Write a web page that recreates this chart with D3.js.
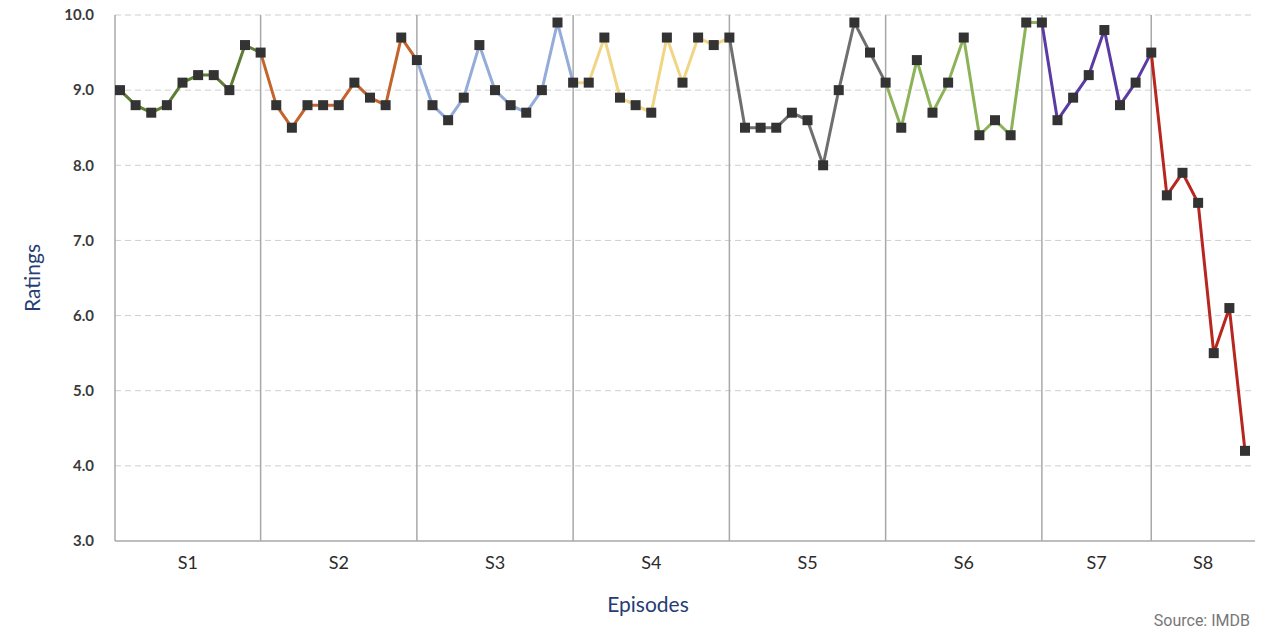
<!DOCTYPE html>
<html lang="en">
<head>
    <meta charset="utf-8">
    <title>Ratings by episode</title>
    <script type="text/javascript" src="https://d3js.org/d3.v7.min.js"></script>
    <style>
        body{
            margin: 0;
            background: white;
        }
        text{
            font-family: Lato, "Open Sans", sans-serif;
        }
        .grid line{
            stroke: #cfcfcf;
            stroke-dasharray: 6 4;
        }
        .y.axis text{
            font-size: 15px;
            font-weight: bold;
            fill: #3a3a3a;
        }
        .season-label{
            font-size: 18px;
            fill: #2b2b2b;
        }
        .axis-title{
            font-size: 21px;
            fill: #263d74;
        }
        .source{
            font-family: "Liberation Sans Narrow", "Roboto", sans-serif;
            font-size: 16px;
            fill: #777;
        }
    </style>
</head>
<body>
    <div id="chart"></div>
    <script type="text/javascript">
        // ratings per season
        const seasons = ["S1", "S2", "S3", "S4", "S5", "S6", "S7", "S8"];
        const s1 = [9.0, 8.8, 8.7, 8.8, 9.1, 9.2, 9.2, 9.0, 9.6, 9.5];
        const s2 = [8.8, 8.5, 8.8, 8.8, 8.8, 9.1, 8.9, 8.8, 9.7, 9.4];
        const s3 = [8.8, 8.6, 8.9, 9.6, 9.0, 8.8, 8.7, 9.0, 9.9, 9.1];
        const s4 = [9.1, 9.7, 8.9, 8.8, 8.7, 9.7, 9.1, 9.7, 9.6, 9.7];
        const s5 = [8.5, 8.5, 8.5, 8.7, 8.6, 8.0, 9.0, 9.9, 9.5, 9.1];
        const s6 = [8.5, 9.4, 8.7, 9.1, 9.7, 8.4, 8.6, 8.4, 9.9, 9.9];
        const s7 = [8.6, 8.9, 9.2, 9.8, 8.8, 9.1, 9.5];
        const s8 = [7.6, 7.9, 7.5, 5.5, 6.1, 4.2];
        const yTicks = [3, 4, 5, 6, 7, 8, 9, 10];

        const seasonColors = ["#5e7d35", "#c4642d", "#93acd9", "#f1d585", "#6f6f6f", "#8db359", "#5b3ba3", "#b8261f"];

        const width = 1270;
        const height = 632;
        const plot = {left: 115, right: 1255, top: 15, bottom: 541};

        // flatten into one list of episodes with a running index
        const ratings = [s1, s2, s3, s4, s5, s6, s7, s8];
        const episodes = [];
        ratings.forEach((list, si) => {
            list.forEach(v => episodes.push({season: si, index: episodes.length + 1, value: v}));
        });
        const total = episodes.length;

        // season boundaries in episode index (last episode of each season)
        const ends = [];
        let count = 0;
        ratings.forEach(list => { count += list.length; ends.push(count); });

        const x = d3.scaleLinear()
            .domain([0.68, total + 0.64])
            .range([plot.left, plot.right]);

        const y = d3.scaleLinear()
            .domain([3, 10])
            .range([plot.bottom, plot.top]);

        const svg = d3.select("#chart")
            .append("svg")
            .attr("width", width)
            .attr("height", height);

        // dashed horizontal grid
        svg.append("g")
            .attr("class", "grid")
            .selectAll("line")
            .data(yTicks.filter(t => t > 3))
            .enter()
            .append("line")
                .attr("x1", plot.left)
                .attr("x2", plot.right)
                .attr("y1", d => y(d))
                .attr("y2", d => y(d));

        // y axis labels
        const yAxis = d3.axisLeft(y)
            .tickValues(yTicks)
            .tickFormat(d3.format(".1f"))
            .tickSize(0)
            .tickPadding(21);

        svg.append("g")
            .attr("class", "y axis")
            .attr("transform", `translate(${plot.left}, 0)`)
            .call(yAxis)
            .call(g => g.select(".domain").remove());

        // season dividers
        const xEdges = [x.domain()[0]].concat(ends.slice(0, -1), [x.domain()[1]]);
        svg.append("g")
            .attr("class", "dividers")
            .selectAll("line")
            .data(ends.slice(0, -1))
            .enter()
            .append("line")
                .attr("x1", d => x(d))
                .attr("x2", d => x(d))
                .attr("y1", plot.top)
                .attr("y2", plot.bottom)
                .attr("stroke", "#a8a8a8")
                .attr("stroke-width", 1.5);

        // axis frame lines
        svg.append("line")
            .attr("x1", plot.left).attr("x2", plot.left)
            .attr("y1", plot.top).attr("y2", plot.bottom)
            .attr("stroke", "#a8a8a8").attr("stroke-width", 1.5);
        svg.append("line")
            .attr("x1", plot.left).attr("x2", plot.right)
            .attr("y1", plot.bottom).attr("y2", plot.bottom)
            .attr("stroke", "#a8a8a8").attr("stroke-width", 1.5);

        // season labels centred between dividers
        svg.append("g")
            .selectAll("text")
            .data(seasons)
            .enter()
            .append("text")
                .attr("class", "season-label")
                .attr("x", (d, i) => (x(xEdges[i]) + x(xEdges[i + 1])) / 2)
                .attr("y", 569)
                .attr("text-anchor", "middle")
                .text(d => d);

        // one line per season, starting from the previous season's last episode
        const line = d3.line()
            .x(d => x(d.index))
            .y(d => y(d.value));

        svg.append("g")
            .attr("class", "lines")
            .selectAll("path")
            .data(seasons.map((s, i) => {
                const pts = episodes.filter(e => e.season === i);
                if (i > 0) pts.unshift(episodes[ends[i - 1] - 1]);
                return pts;
            }))
            .enter()
            .append("path")
                .attr("d", line)
                .attr("fill", "none")
                .attr("stroke", (d, i) => seasonColors[i])
                .attr("stroke-width", 3)
                .attr("stroke-linejoin", "round");

        // square markers
        const m = 10;
        svg.append("g")
            .attr("class", "markers")
            .selectAll("rect")
            .data(episodes)
            .enter()
            .append("rect")
                .attr("x", d => x(d.index) - m / 2)
                .attr("y", d => y(d.value) - m / 2)
                .attr("width", m)
                .attr("height", m)
                .attr("fill", "#333333");

        // titles
        svg.append("text")
            .attr("class", "axis-title")
            .attr("transform", "translate(40, 278) rotate(-90)")
            .attr("text-anchor", "middle")
            .text("Ratings");

        svg.append("text")
            .attr("class", "axis-title")
            .attr("x", 648)
            .attr("y", 612)
            .attr("text-anchor", "middle")
            .text("Episodes");

        svg.append("text")
            .attr("class", "source")
            .attr("x", 1250)
            .attr("y", 626)
            .attr("text-anchor", "end")
            .text("Source: IMDB");
    </script>
</body>
</html>
